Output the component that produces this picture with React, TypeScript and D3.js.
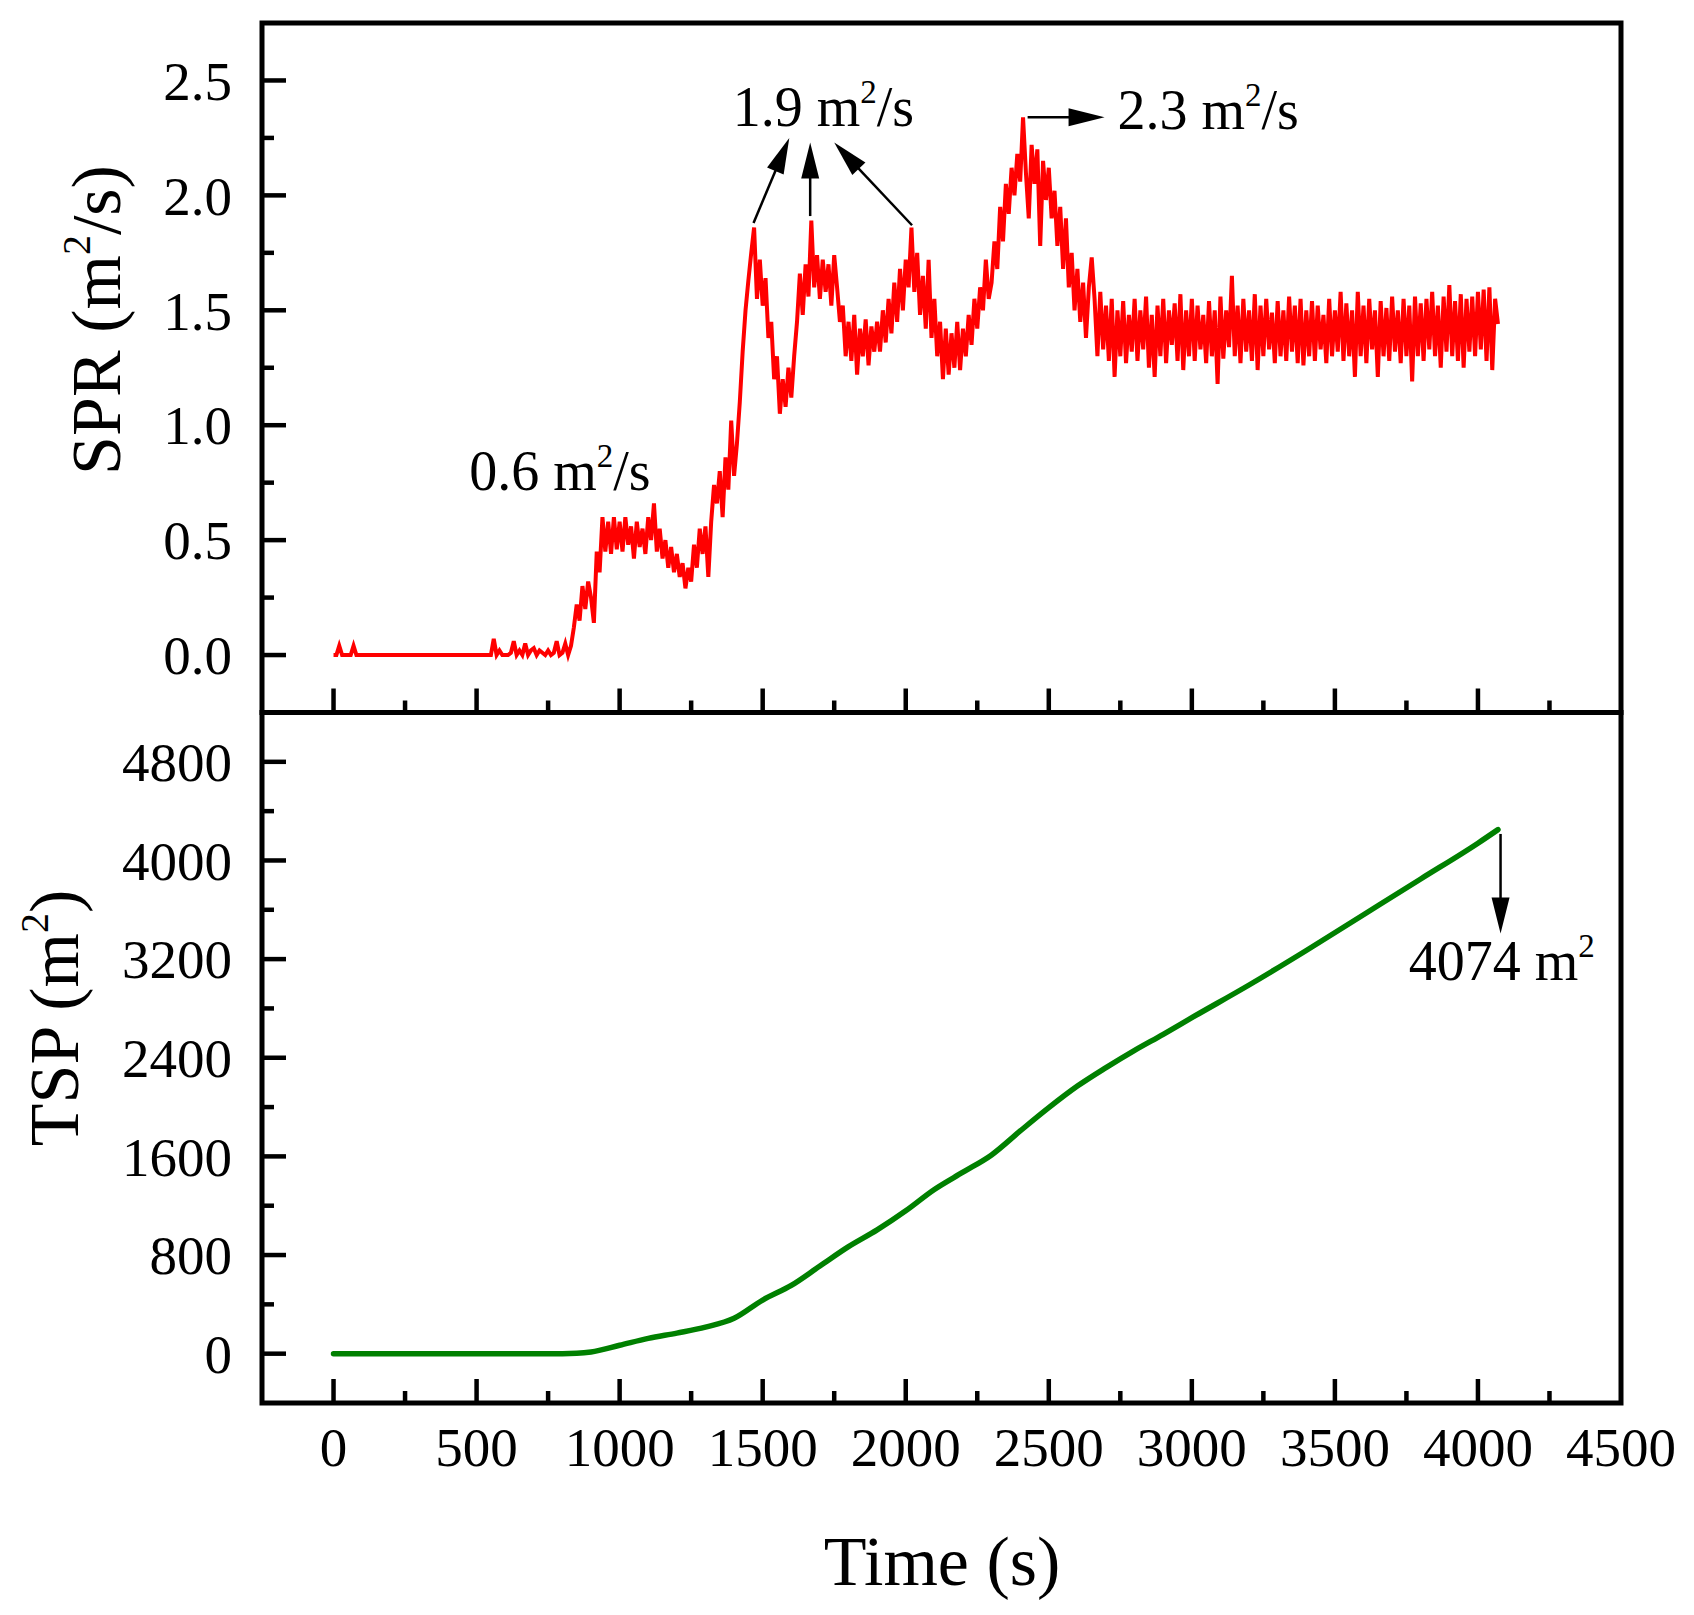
import * as d3 from "d3";

// SPR readings, one every 10 s starting at t = 0 (m²/s)
const sprStep = 10;
const sprValues = [
  0, 0, 0.04, 0, 0, 0, 0, 0.04, 0, 0, 0, 0, 0, 0, 0, 0, 0, 0, 0, 0,
  0, 0, 0, 0, 0, 0, 0, 0, 0, 0, 0, 0, 0, 0, 0, 0, 0, 0, 0, 0,
  0, 0, 0, 0, 0, 0, 0, 0, 0, 0, 0, 0, 0, 0, 0, 0, 0.07, 0, 0.02, 0,
  0, 0, 0.01, 0.06, 0, 0.02, 0, 0.05, 0, 0.02, 0.03, 0, 0.02, 0.01, 0, 0.02, 0, 0.01, 0.06, 0,
  0.01, 0.05, 0, 0.04, 0.12, 0.22, 0.15, 0.3, 0.2, 0.32, 0.25, 0.14, 0.45, 0.36, 0.6, 0.45, 0.58, 0.44, 0.6, 0.46,
  0.58, 0.45, 0.6, 0.48, 0.56, 0.42, 0.58, 0.47, 0.55, 0.44, 0.6, 0.5, 0.66, 0.45, 0.55, 0.42, 0.5, 0.38, 0.47, 0.36,
  0.44, 0.34, 0.4, 0.29, 0.38, 0.32, 0.48, 0.38, 0.55, 0.44, 0.56, 0.34, 0.58, 0.74, 0.66, 0.8, 0.6, 0.86, 0.72, 1.02,
  0.78, 0.92, 1.1, 1.32, 1.5, 1.63, 1.75, 1.86, 1.55, 1.72, 1.52, 1.64, 1.38, 1.45, 1.2, 1.3, 1.05, 1.2, 1.08, 1.25,
  1.12, 1.3, 1.45, 1.66, 1.48, 1.7, 1.56, 1.89, 1.6, 1.74, 1.55, 1.72, 1.58, 1.7, 1.52, 1.74, 1.6, 1.45, 1.52, 1.3,
  1.45, 1.28, 1.48, 1.22, 1.42, 1.3, 1.46, 1.26, 1.43, 1.32, 1.45, 1.32, 1.5, 1.36, 1.55, 1.4, 1.62, 1.45, 1.68, 1.5,
  1.72, 1.6, 1.86, 1.58, 1.75, 1.48, 1.65, 1.42, 1.72, 1.38, 1.55, 1.3, 1.45, 1.2, 1.42, 1.22, 1.4, 1.25, 1.45, 1.24,
  1.42, 1.3, 1.48, 1.35, 1.55, 1.42, 1.6, 1.5, 1.72, 1.55, 1.62, 1.8, 1.68, 1.95, 1.8, 2.05, 1.92, 2.12, 2.0, 2.18,
  2.06, 2.34, 2.1, 1.9, 2.22, 2.05, 2.2, 1.78, 2.15, 1.98, 2.12, 1.9, 2.02, 1.78, 1.95, 1.68, 1.9, 1.6, 1.75, 1.5,
  1.68, 1.45, 1.62, 1.38, 1.6, 1.73, 1.55, 1.3, 1.58, 1.33, 1.52, 1.28, 1.55, 1.21, 1.5, 1.3, 1.54, 1.27, 1.48, 1.32,
  1.55, 1.28, 1.5, 1.33, 1.56, 1.25, 1.48, 1.21, 1.52, 1.3, 1.55, 1.27, 1.5, 1.35, 1.53, 1.28, 1.57, 1.24, 1.5, 1.3,
  1.55, 1.28, 1.52, 1.33, 1.48, 1.27, 1.54, 1.3, 1.5, 1.18, 1.56, 1.29, 1.5, 1.34, 1.65, 1.3, 1.52, 1.27, 1.55, 1.32,
  1.5, 1.28, 1.57, 1.24, 1.52, 1.3, 1.55, 1.33, 1.49, 1.27, 1.54, 1.3, 1.5, 1.28, 1.56, 1.32, 1.52, 1.27, 1.55, 1.26,
  1.5, 1.3, 1.54, 1.28, 1.52, 1.33, 1.48, 1.27, 1.55, 1.3, 1.5, 1.32, 1.58, 1.28, 1.53, 1.3, 1.5, 1.21, 1.58, 1.3,
  1.52, 1.27, 1.55, 1.33, 1.5, 1.21, 1.54, 1.3, 1.51, 1.28, 1.56, 1.32, 1.5, 1.27, 1.55, 1.3, 1.52, 1.19, 1.56, 1.3,
  1.53, 1.28, 1.55, 1.33, 1.58, 1.3, 1.52, 1.25, 1.56, 1.32, 1.61, 1.3, 1.54, 1.28, 1.57, 1.25, 1.55, 1.32, 1.56, 1.3,
  1.58, 1.33, 1.59, 1.28, 1.6, 1.24, 1.55, 1.44,
];

// TSP (cumulative smoke production), m²
const tspTimes = [
  0, 800, 850, 900, 1000, 1100, 1200, 1300, 1400, 1500, 1600, 1700, 1800, 1900, 2000, 2100,
  2200, 2300, 2400, 2500, 2600, 2700, 2800, 2900, 3000, 3200, 3400, 3600, 3800, 4000, 4070,
];
const tspValues = [
  0, 0, 3, 14, 68, 124, 167, 215, 287, 435, 554, 711, 868, 1004, 1159, 1332,
  1472, 1612, 1806, 1995, 2170, 2320, 2460, 2590, 2725, 2990, 3270, 3560, 3850, 4140, 4250,
];

const timeTicks = [0, 500, 1000, 1500, 2000, 2500, 3000, 3500, 4000, 4500];
const timeMinor = [-250, 250, 750, 1250, 1750, 2250, 2750, 3250, 3750, 4250];
const sprTicks = [0, 0.5, 1, 1.5, 2, 2.5];
const sprMinor = [0.25, 0.75, 1.25, 1.75, 2.25];
const tspTicks = [0, 800, 1600, 2400, 3200, 4000, 4800];
const tspMinor = [400, 1200, 2000, 2800, 3600, 4400];

// annotations (data units)
const sprNotes = [
  { value: "0.6", t: 474, v: 0.72 },
  { value: "1.9", t: 1395, v: 2.3 },
  { value: "2.3", t: 2740, v: 2.29 },
];
const sprArrows = [
  { t0: 1468, v0: 1.88, t1: 1593, v1: 2.25 },
  { t0: 1666, v0: 1.91, t1: 1666, v1: 2.23 },
  { t0: 2022, v0: 1.87, t1: 1750, v1: 2.23 },
  { t0: 2426, v0: 2.34, t1: 2695, v1: 2.34 },
];
const tspNote = { value: "4074", t: 3758, v: 3034 };
const tspArrow = { t0: 4079, v0: 4215, t1: 4079, v1: 3408 };

const W = 1694;
const H = 1615;
const left = 262;
const right = 1621;
const top = 23;
const mid = 712.5;
const bottom = 1403;
const font = "'Liberation Serif', 'Times New Roman', Times, serif";

function Arrow({ x0, y0, x1, y1 }: { x0: number; y0: number; x1: number; y1: number }) {
  const len = Math.hypot(x1 - x0, y1 - y0);
  const ux = (x1 - x0) / len;
  const uy = (y1 - y0) / len;
  const head = 36;
  const half = 9;
  const bx = x1 - ux * head;
  const by = y1 - uy * head;
  const pts = [
    [x1, y1],
    [bx - uy * half, by + ux * half],
    [bx + uy * half, by - ux * half],
  ];
  return (
    <g>
      <line x1={x0} y1={y0} x2={bx + ux * 2} y2={by + uy * 2} stroke="#000" strokeWidth={2.5} />
      <polygon points={pts.map((p) => p.join(",")).join(" ")} fill="#000" />
    </g>
  );
}

export default function App() {
  const x = d3.scaleLinear().domain([-250, 4500]).range([left, right]);
  const ySpr = d3.scaleLinear().domain([-0.25, 2.75]).range([mid, top]);
  const yTsp = d3.scaleLinear().domain([-400, 5200]).range([bottom, mid]);

  const sprLine = d3
    .line<number>()
    .x((_, i) => x(i * sprStep))
    .y((d) => ySpr(d));
  const tspLine = d3
    .line<number>()
    .x((_, i) => x(tspTimes[i]))
    .y((d) => yTsp(d))
    .curve(d3.curveMonotoneX);

  const major = 24;
  const minor = 12;

  return (
    <svg
      width={W}
      height={H}
      viewBox={`0 0 ${W} ${H}`}
      style={{ position: "absolute", left: 0, top: 0, background: "#fff", display: "block" }}
      fontFamily={font}
    >
      <rect width={W} height={H} fill="#fff" />

      {/* data */}
      <path d={sprLine(sprValues) ?? ""} fill="none" stroke="#ff0000" strokeWidth={4} strokeLinejoin="miter" />
      <path d={tspLine(tspValues) ?? ""} fill="none" stroke="#008000" strokeWidth={5.5} strokeLinecap="round" />

      {/* ticks: top panel */}
      <g stroke="#000" strokeWidth={4.5}>
        {sprTicks.map((d) => (
          <line key={"sm" + d} x1={left} x2={left + major} y1={ySpr(d)} y2={ySpr(d)} />
        ))}
        {sprMinor.map((d) => (
          <line key={"sn" + d} x1={left} x2={left + minor} y1={ySpr(d)} y2={ySpr(d)} />
        ))}
        {timeTicks.slice(0, -1).map((d) => (
          <line key={"tm" + d} x1={x(d)} x2={x(d)} y1={mid} y2={mid - major} />
        ))}
        {timeMinor.slice(1).map((d) => (
          <line key={"tn" + d} x1={x(d)} x2={x(d)} y1={mid} y2={mid - minor} />
        ))}
        {/* bottom panel */}
        {tspTicks.map((d) => (
          <line key={"pm" + d} x1={left} x2={left + major} y1={yTsp(d)} y2={yTsp(d)} />
        ))}
        {tspMinor.map((d) => (
          <line key={"pn" + d} x1={left} x2={left + minor} y1={yTsp(d)} y2={yTsp(d)} />
        ))}
        {timeTicks.slice(0, -1).map((d) => (
          <line key={"bm" + d} x1={x(d)} x2={x(d)} y1={bottom} y2={bottom - major} />
        ))}
        {timeMinor.slice(1).map((d) => (
          <line key={"bn" + d} x1={x(d)} x2={x(d)} y1={bottom} y2={bottom - minor} />
        ))}
      </g>

      {/* frames */}
      <rect x={left} y={top} width={right - left} height={mid - top} fill="none" stroke="#000" strokeWidth={5} />
      <rect x={left} y={mid} width={right - left} height={bottom - mid} fill="none" stroke="#000" strokeWidth={5} />

      {/* tick labels */}
      <g fontSize={55} fill="#000">
        {sprTicks.map((d) => (
          <text key={"sl" + d} x={232} y={ySpr(d)} dy="0.35em" textAnchor="end">
            {d.toFixed(1)}
          </text>
        ))}
        {tspTicks.map((d) => (
          <text key={"pl" + d} x={232} y={yTsp(d)} dy="0.35em" textAnchor="end">
            {d}
          </text>
        ))}
        {timeTicks.map((d) => (
          <text key={"xl" + d} x={x(d)} y={1466} textAnchor="middle">
            {d}
          </text>
        ))}
      </g>

      {/* axis titles */}
      <text x={942} y={1585} fontSize={70} textAnchor="middle">
        Time (s)
      </text>
      <text transform="translate(120,320) rotate(-90)" fontSize={70} textAnchor="middle">
        SPR (m
        <tspan fontSize={40} dy={-30}>
          2
        </tspan>
        <tspan dy={30}>/s)</tspan>
      </text>
      <text transform="translate(78,1018) rotate(-90)" fontSize={70} textAnchor="middle">
        TSP (m
        <tspan fontSize={40} dy={-30}>
          2
        </tspan>
        <tspan dy={30}>)</tspan>
      </text>

      {/* annotations */}
      <g fontSize={56} fill="#000">
        {sprNotes.map((n) => (
          <text key={n.value} x={x(n.t)} y={ySpr(n.v)}>
            {n.value} m
            <tspan fontSize={33} dy={-23}>
              2
            </tspan>
            <tspan dy={23}>/s</tspan>
          </text>
        ))}
        <text x={x(tspNote.t)} y={yTsp(tspNote.v)}>
          {tspNote.value} m
          <tspan fontSize={33} dy={-23}>
            2
          </tspan>
        </text>
      </g>
      {sprArrows.map((a, i) => (
        <Arrow key={i} x0={x(a.t0)} y0={ySpr(a.v0)} x1={x(a.t1)} y1={ySpr(a.v1)} />
      ))}
      <Arrow x0={x(tspArrow.t0)} y0={yTsp(tspArrow.v0)} x1={x(tspArrow.t1)} y1={yTsp(tspArrow.v1)} />
    </svg>
  );
}
